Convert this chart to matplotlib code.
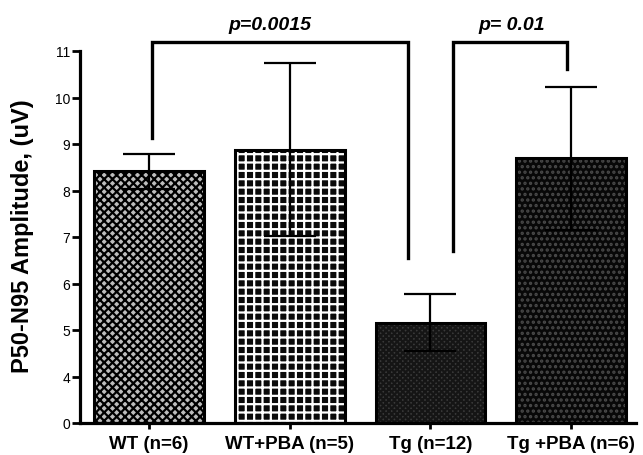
import numpy as np
import matplotlib
matplotlib.use("Agg")
import matplotlib.pyplot as plt

categories = ["WT (n=6)", "WT+PBA (n=5)", "Tg (n=12)", "Tg +PBA (n=6)"]
means = [8.41, 8.88, 5.16, 8.69]
sems = [0.37, 1.86, 0.62, 1.53]
yticks = [0, 4, 5, 6, 7, 8, 9, 10, 11]
ytick_labels = ["0", "4", "5", "6", "7", "8", "9", "10", "11"]

# significance brackets: (x_left, x_right, y_top, y_left_end, y_right_end, label, label_x)
brackets = [
    (0.02, 1.84, 11.19, 9.13, 6.55, "p=0.0015", 0.86),
    (2.16, 2.97, 11.19, 6.70, 10.61, "p= 0.01", 2.58),
]

faces = ["#bdbdbd", "#0a0a0a", "#3a3a3a", "#080808"]
hatch_cols = ["#000000", "#ffffff", "#151515", "#4a4a4a"]
hatches = ["xxxx", "++", "xxxxxx", "..."]

plt.rcParams["font.family"] = ["Liberation Sans", "DejaVu Sans"]
plt.rcParams["hatch.linewidth"] = 1.6

def fwd(y):
    y = np.asarray(y, dtype=float)
    return np.where(y < 4, 3 + y / 4.0, y)

def inv(u):
    u = np.asarray(u, dtype=float)
    return np.where(u < 4, (u - 3) * 4.0, u)

fig = plt.figure(figsize=(6.43, 4.56), dpi=100)
ax = fig.add_axes([80 / 643, 1 - 424 / 456, (636 - 80) / 643, (424 - 52) / 456])
ax.set_yscale("function", functions=(fwd, inv))

x = np.arange(len(categories))
for i in range(len(categories)):
    ax.bar(x[i], means[i], width=0.78, color=faces[i], edgecolor=hatch_cols[i],
           hatch=hatches[i], linewidth=0, zorder=2)
ax.bar(x, means, width=0.78, fill=False, edgecolor="black", linewidth=2.2, zorder=3)
ax.errorbar(x, means, yerr=sems, fmt="none", ecolor="black", elinewidth=1.6,
            capsize=19, capthick=1.6, zorder=4)

for xl, xr, yt, yl, yr, lab, lx in brackets:
    ax.plot([xl, xl, xr, xr], [yl, yt, yt, yr], color="black", lw=2.4,
            clip_on=False, solid_joinstyle="miter", zorder=5)
    ax.text(lx, 11.56, lab, ha="center", va="center", fontsize=14,
            fontweight="bold", fontstyle="italic", clip_on=False)

ax.set_xlim(-0.49, 3.46)
ax.set_ylim(0, 11)
ax.set_yticks(yticks)
ax.set_yticklabels(ytick_labels)
ax.yaxis.set_minor_locator(matplotlib.ticker.NullLocator())
ax.set_xticks(x)
ax.set_xticklabels(categories, fontsize=13.5, fontweight="bold")

for s in ["top", "right"]:
    ax.spines[s].set_visible(False)
for s in ["left", "bottom"]:
    ax.spines[s].set_linewidth(2.3)
ax.tick_params(axis="y", length=6, width=2, pad=1, labelsize=10)
ax.tick_params(axis="x", length=4, width=2, pad=5)

fig.text(23 / 643, 1 - 236 / 456, "P50-N95 Amplitude, (uV)", rotation=90,
         ha="center", va="center", fontsize=17, fontweight="bold")

fig.savefig("out.png", dpi=100)
